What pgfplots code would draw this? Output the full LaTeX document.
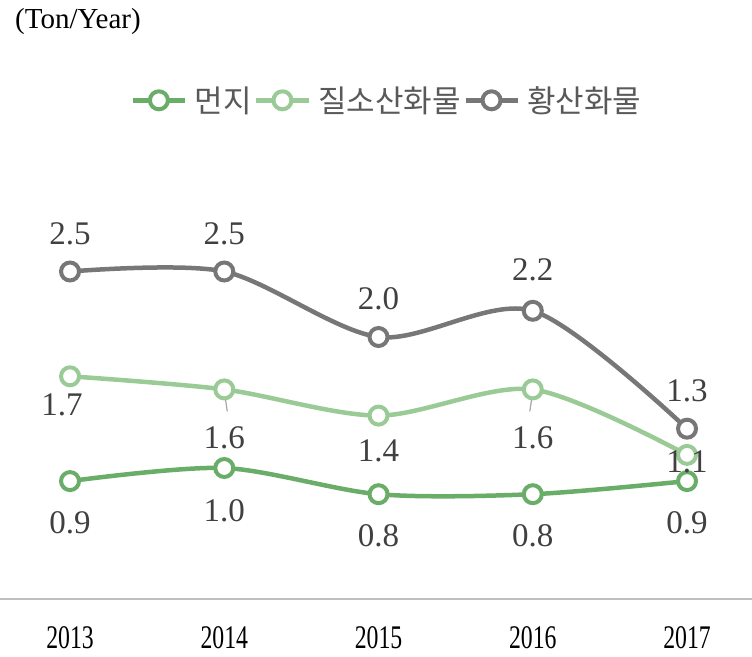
\documentclass[border=0pt]{standalone}
\usepackage{pgfplots}
\pgfplotsset{compat=1.18}
\usepackage{pgfplotstable}
\usepackage{graphicx}
\usepackage{fontspec}
\setmainfont{Liberation Serif}
\newfontfamily\kr{Noto Sans CJK KR}
\definecolor{cdust}{HTML}{6AAD68}
\definecolor{cnox}{HTML}{9ACB96}
\definecolor{csox}{HTML}{777777}
\definecolor{ctxt}{HTML}{404040}
\definecolor{cleg}{HTML}{595959}
\definecolor{cline}{HTML}{BFBFBF}

\pgfplotstableread{
x y dy dx
0 0.9 -42 0
1 1.0 -43 0
2 0.8 -42 0
3 0.8 -42 0
4 0.9 -42 0
}\dust
\pgfplotstableread{
x y dy dx
0 1.7 -29 -8
1 1.6 -48 0
2 1.4 -35 0
3 1.6 -48 0
4 1.1 -7 0
}\nox
\pgfplotstableread{
x y dy dx
0 2.5 38 0
1 2.5 38 0
2 2.0 38 0
3 2.2 41 0
4 1.3 38 0
}\sox

\begin{document}
\begin{tikzpicture}
\useasboundingbox (0,0) rectangle (752pt,656pt);
\begin{axis}[
  at={(0pt,57pt)}, anchor=south west,
  x=154.25pt, y=131pt,
  xmin=-0.454, xmax=4.421, ymin=0, ymax=4.57,
  axis x line*=bottom, axis y line=none,
  axis line style={draw=cline, line width=2pt, -},
  ytick=\empty, xtick={0,1,2,3,4},
  major tick length=0pt,
  xticklabels={\scalebox{0.72}[1]{2013},\scalebox{0.72}[1]{2014},\scalebox{0.72}[1]{2015},\scalebox{0.72}[1]{2016},\scalebox{0.72}[1]{2017}},
  xticklabel style={anchor=center, yshift=-39pt, text=black, font=\fontsize{33}{38}\selectfont},
  clip=false,
  legend style={at={(0.515,0.833)}, anchor=center, draw=none, fill=none,
    font=\kr\fontsize{31}{34}\selectfont, text=cleg,
    nodes={inner sep=2.5pt},
    /tikz/every odd column/.append style={column sep=5pt}},
  legend columns=-1,
  legend image code/.code={\draw[mark repeat=2,mark phase=2,#1] plot coordinates {(0pt,0pt)(26pt,0pt)(52pt,0pt)};},
  every axis plot/.append style={line width=4.5pt, smooth, mark=*, mark size=9pt, mark options={solid, fill=white, line width=4pt}},
  point meta=y,
  nodes near coords={\pgfmathprintnumber[fixed,fixed zerofill,precision=1,assume math mode=true]{\pgfplotspointmeta}},
  visualization depends on={\thisrow{dy}\as\dy},
  visualization depends on={\thisrow{dx}\as\dx},
  every node near coord/.append style={anchor=center, yshift=\dy*1pt, xshift=\dx*1pt, font=\fontsize{33}{38}\selectfont, text=ctxt},
]
\addplot[cdust] table[x=x,y=y] {\dust};
\addlegendentry{먼지}
\addplot[cnox] table[x=x,y=y] {\nox};
\addlegendentry{질소산화물}
\addplot[csox] table[x=x,y=y] {\sox};
\addlegendentry{황산화물}
\draw[black!35, line width=1.2pt] ([yshift=-2pt]axis cs:1,1.6) -- ([xshift=3pt,yshift=-22pt]axis cs:1,1.6);
\draw[black!35, line width=1.2pt] ([yshift=-2pt]axis cs:3,1.6) -- ([xshift=-3pt,yshift=-22pt]axis cs:3,1.6);
\end{axis}
\node[anchor=north west, inner sep=0pt, font=\fontsize{29}{33}\selectfont] at (15pt,648pt) {(Ton/Year)};
\end{tikzpicture}
\end{document}
